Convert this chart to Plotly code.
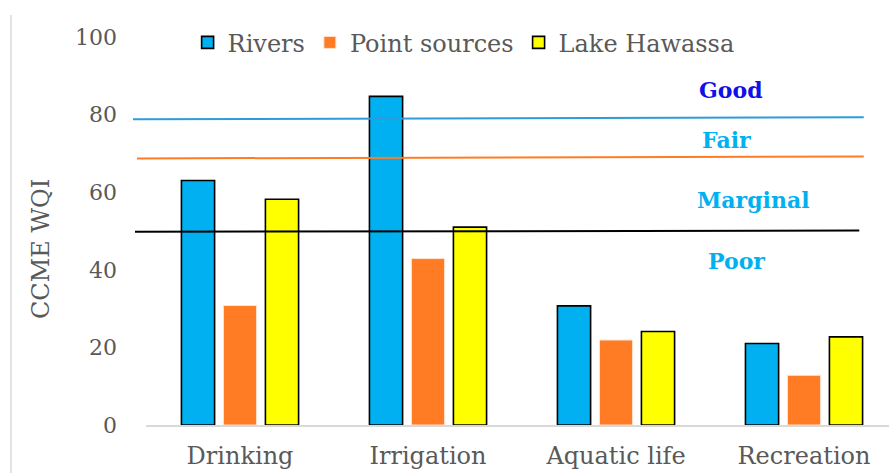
import plotly.graph_objects as go

# Water-quality index per use category
categories = ["Drinking", "Irrigation", "Aquatic life", "Recreation"]
rivers = [63, 84.7, 30.7, 21]
point_sources = [30.8, 42.9, 21.9, 12.8]
lake_hawassa = [58.2, 51, 24.1, 22.7]

# CCME class boundaries (left end, right end) and class labels
good_line = [78.8, 79.3]
fair_line = [68.7, 69.2]
marginal_line = [49.8, 50.1]
class_labels = ["Good", "Fair", "Marginal", "Poor"]
class_label_y = [86.3, 73.5, 58, 42.3]
class_label_x = [2.61, 2.59, 2.73, 2.64]

FONT = "DejaVu Serif"
GREY = "#595959"

fig = go.Figure()
fig.add_bar(x=categories, y=rivers, name="Rivers",
            marker=dict(color="#00B0F0", line=dict(color="#000000", width=1.6)))
fig.add_bar(x=categories, y=point_sources, name="Point sources",
            marker=dict(color="#FF7C24", line=dict(color="#FFE3D0", width=1)))
fig.add_bar(x=categories, y=lake_hawassa, name="Lake Hawassa",
            marker=dict(color="#FFFF00", line=dict(color="#000000", width=1.6)))

# Class boundary lines, running slightly past the plot edges
for vals, col, x0, x1 in [(good_line, "#2E9BDB", -0.0175, 0.966),
                          (fair_line, "#FF7C24", -0.0121, 0.966),
                          (marginal_line, "#000000", -0.0148, 0.960)]:
    fig.add_shape(type="line", xref="paper", yref="y", x0=x0, x1=x1,
                  y0=vals[0], y1=vals[1], line=dict(color=col, width=2))

label_colors = ["#1010E8", "#00B0F0", "#00B0F0", "#00B0F0"]
for txt, xv, yv, col in zip(class_labels, class_label_x, class_label_y, label_colors):
    fig.add_annotation(x=xv, y=yv, xref="x", yref="y", text=f"<b>{txt}</b>",
                       showarrow=False, font=dict(family=FONT, size=22, color=col))

# Y-axis title
fig.add_annotation(x=-0.1413, y=0.4536, xref="paper", yref="paper", text="CCME WQI",
                   textangle=-90, showarrow=False, xanchor="center", yanchor="middle",
                   font=dict(family=FONT, size=24, color=GREY))

# Thin outer frame line at the left
fig.add_shape(type="line", xref="paper", yref="paper", x0=-0.1817, x1=-0.1817,
              y0=1.057, y1=-0.2, line=dict(color="#D9D9D9", width=1.5))

fig.update_layout(
    width=889, height=473,
    margin=dict(l=146, r=0, t=37, b=48),
    plot_bgcolor="white", paper_bgcolor="white",
    barmode="group", bargap=0.33, bargroupgap=0.21,
    font=dict(family=FONT, color=GREY, size=22),
    legend=dict(orientation="h", x=0.056, y=0.985, xanchor="left", yanchor="middle",
                itemwidth=30, font=dict(family=FONT, size=24, color=GREY),
                bgcolor="rgba(0,0,0,0)"),
    xaxis=dict(range=[-0.5, 3.452], showline=True, linecolor="#D9D9D9", linewidth=1.5,
               showgrid=False, ticks="", ticklabelstandoff=8, automargin=False,
               tickfont=dict(family=FONT, size=24, color=GREY)),
    yaxis=dict(range=[0, 100], dtick=20, showgrid=False, zeroline=False, showline=False,
               ticks="", ticklabelstandoff=28, automargin=False,
               tickfont=dict(family=FONT, size=22, color=GREY)),
)

fig.write_html("out.html")
